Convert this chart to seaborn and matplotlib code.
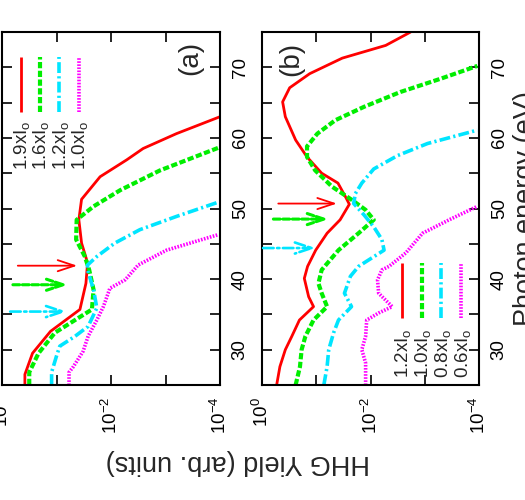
import numpy as np
import pandas as pd
import seaborn as sns
import matplotlib.pyplot as plt
from matplotlib.ticker import NullLocator

# panel (a): photon energy (eV) and log10 of the HHG yield
ea_19 = [25.0, 26.5, 29.5, 32.6, 35.7, 39.4, 42.3, 45.1, 48.4, 51.3, 54.5, 56.9, 58.5, 60.6, 63.0]
la_19 = [-0.42, -0.42, -0.56, -0.89, -1.43, -1.54, -1.57, -1.46, -1.41, -1.46, -1.80, -2.29, -2.59, -3.20, -4.0]
ea_16 = [25.0, 26.8, 29.5, 32.4, 34.2, 35.7, 38.5, 41.3, 43.2, 45.6, 48.4, 50.3, 52.6, 55.4, 58.6]
la_16 = [-0.50, -0.50, -0.67, -0.97, -1.34, -1.65, -1.68, -1.60, -1.52, -1.36, -1.37, -1.68, -2.17, -2.90, -3.97]
ea_12 = [25.0, 26.8, 29.1, 30.5, 31.9, 33.3, 35.9, 38.5, 41.3, 42.0, 43.2, 45.1, 47.0, 48.9, 50.9]
la_12 = [-0.91, -0.91, -1.00, -1.06, -1.34, -1.58, -1.74, -1.68, -1.57, -1.57, -1.74, -2.07, -2.53, -3.21, -3.97]
ea_10 = [25.0, 26.8, 27.6, 29.8, 31.9, 34.2, 36.1, 38.7, 39.9, 41.3, 42.0, 44.1, 46.3]
la_10 = [-1.23, -1.23, -1.31, -1.49, -1.58, -1.74, -1.86, -1.98, -2.26, -2.42, -2.50, -3.02, -3.97]

# panel (b)
eb_12 = [25.0, 27.6, 30.0, 31.9, 34.2, 36.1, 37.5, 40.1, 41.8, 44.1, 46.5, 48.4, 50.6, 51.5,
         53.6, 55.0, 57.3, 59.7, 63.0, 65.1, 67.1, 69.1, 71.3, 73.1, 75.0]
lb_12 = [-0.27, -0.33, -0.43, -0.55, -0.69, -0.95, -0.86, -0.78, -0.84, -0.99, -1.20, -1.44, -1.61, -1.55,
         -1.40, -1.10, -0.83, -0.62, -0.43, -0.38, -0.51, -0.88, -1.48, -2.28, -2.74]
eb_10 = [25.0, 27.6, 30.0, 31.9, 34.2, 36.1, 38.0, 39.4, 41.3, 44.1, 46.5, 48.4, 49.8, 51.2,
         53.1, 55.4, 57.3, 58.8, 60.6, 62.5, 64.4, 66.5, 68.4, 70.2]
lb_10 = [-0.62, -0.70, -0.73, -0.80, -0.95, -1.20, -1.10, -1.04, -1.10, -1.41, -1.78, -2.06, -1.91, -1.66,
         -1.29, -0.98, -0.83, -0.83, -1.02, -1.35, -1.88, -2.55, -3.30, -3.97]
eb_08 = [25.0, 27.6, 30.0, 32.4, 34.2, 36.1, 38.0, 40.4, 41.8, 44.1, 45.6, 47.4, 49.1, 50.7,
         52.1, 53.6, 55.6, 57.5, 59.2, 61.1]
lb_08 = [-1.14, -1.20, -1.23, -1.32, -1.41, -1.65, -1.52, -1.63, -1.78, -2.25, -2.21, -2.06, -1.88, -1.69,
         -1.72, -1.84, -2.06, -2.50, -3.05, -3.97]
eb_06 = [25.0, 28.1, 30.0, 31.9, 34.2, 35.2, 36.1, 38.0, 39.9, 41.3, 41.8, 43.7, 46.5, 48.4, 50.3]
lb_06 = [-1.91, -1.91, -1.84, -1.91, -1.93, -2.15, -2.40, -2.15, -2.13, -2.21, -2.34, -2.65, -2.96, -3.45, -3.97]

labels_a = ["1.9xI$_\\mathrm{o}$", "1.6xI$_\\mathrm{o}$", "1.2xI$_\\mathrm{o}$", "1.0xI$_\\mathrm{o}$"]
labels_b = ["1.2xI$_\\mathrm{o}$", "1.0xI$_\\mathrm{o}$", "0.8xI$_\\mathrm{o}$", "0.6xI$_\\mathrm{o}$"]

# arrows: energy, log10 start, log10 end
arr_a = [(41.9, -0.29, -1.38), (39.2, -0.20, -1.21), (35.4, -0.15, -1.19)]
arr_b = [(50.7, -0.30, -1.38), (48.5, -0.21, -1.23), (44.4, -0.02, -0.99)]

colors = ["#ff0000", "#00ee00", "#00e5ff", "#ff00ff"]
widths = [2.0, 3.0, 2.6, 2.6]
styles = ["-", (0, (1.5, 0.6)), (0, (3.0, 0.9, 0.6, 0.9)), (0, (0.45, 0.4))]
arrow_w = [1.3, 2.2, 1.9]
arrow_ls = ["-", (0, (2.2, 0.9)), (0, (4.0, 1.3, 0.9, 1.3))]

sns.set_style("ticks")
plt.rcParams["font.family"] = ["Liberation Sans", "DejaVu Sans"]
plt.rcParams["mathtext.fontset"] = "custom"
plt.rcParams["mathtext.rm"] = "Liberation Sans"
plt.rcParams["mathtext.it"] = "Liberation Sans:italic"
plt.rcParams["mathtext.bf"] = "Liberation Sans:bold"
plt.rcParams["lines.solid_capstyle"] = "butt"
plt.rcParams["lines.dash_capstyle"] = "butt"

fig = plt.figure(figsize=(5.25, 5.0), dpi=100)
ax_a = fig.add_axes([2 / 525, 1 - 385 / 500, 218 / 525, 353 / 500])
ax_b = fig.add_axes([262 / 525, 1 - 385 / 500, 217 / 525, 353 / 500])


def panel(ax, energies, logs, labels, arrows, tag, tagpos, legx, legy, texty):
    ax.set_xscale("log")
    for e, l, c, w, s in zip(energies, logs, colors, widths, styles):
        df = pd.DataFrame({"energy": e, "yld": 10 ** np.array(l)})
        sns.lineplot(data=df, x="yld", y="energy", orient="y", sort=False, estimator=None,
                     color=c, lw=w, linestyle=s, ax=ax)
    for (e, s, t), c, w, st in zip(arrows, colors, arrow_w, arrow_ls):
        ax.annotate("", xy=(10 ** t, e), xytext=(10 ** s, e),
                    arrowprops=dict(arrowstyle="->,head_length=1.2,head_width=0.4",
                                    color=c, lw=w, linestyle=st, shrinkA=0, shrinkB=0))
    ax.set_xlim(1, 1e-4)
    ax.set_ylim(25, 75)
    ax.set_xticks([1, 1e-1, 1e-2, 1e-3, 1e-4])
    ax.set_xticklabels(["$10^{0}$", "", "$10^{-2}$", "", "$10^{-4}$"], rotation=90)
    ax.xaxis.set_minor_locator(NullLocator())
    ax.set_yticks([25, 30, 35, 40, 45, 50, 55, 60, 65, 70, 75])
    ax.set_yticklabels(["", "30", "", "40", "", "50", "", "60", "", "70", ""], rotation=90, va="center")
    ax.yaxis.set_minor_locator(NullLocator())
    ax.tick_params(which="both", direction="in", top=True, bottom=True, left=True, right=True,
                   labelleft=False, labelright=True, length=7, width=1.2, labelsize=13.5, pad=8.5,
                   colors="black")
    ax.set_xlabel("")
    ax.set_ylabel("")
    for sp in ax.spines.values():
        sp.set_linewidth(1.5)
        sp.set_color("black")
    ax.text(tagpos[0], tagpos[1], tag, rotation=90, ha="center", va="center",
            fontsize=20, transform=ax.transAxes)
    for x, lab, c, w, s in zip(legx, labels, colors, widths, styles):
        ax.plot([x, x], legy, transform=ax.transAxes, color=c, lw=w, linestyle=s)
        ax.text(x + 0.006, texty, lab, rotation=90, ha="center", va="bottom",
                fontsize=13.5, transform=ax.transAxes)


panel(ax_a, [ea_19, ea_16, ea_12, ea_10], [la_19, la_16, la_12, la_10], labels_a, arr_a,
      "(a)", (0.862, 0.926), [0.086, 0.174, 0.263, 0.353], [0.774, 0.930], 0.609)
panel(ax_b, [eb_12, eb_10, eb_08, eb_06], [lb_12, lb_10, lb_08, lb_06], labels_b, arr_b,
      "(b)", (0.134, 0.924), [0.645, 0.737, 0.826, 0.918], [0.19, 0.346], 0.02)

fig.text(238 / 525, 1 - 462 / 500, "HHG Yield (arb. units)", rotation=180,
         ha="center", va="center", fontsize=19.5)
fig.text(513 / 525, 1 - 208.5 / 500, "Photon energy (eV)", rotation=90,
         ha="left", va="center", fontsize=19.5)

fig.savefig("out.png", dpi=100)
